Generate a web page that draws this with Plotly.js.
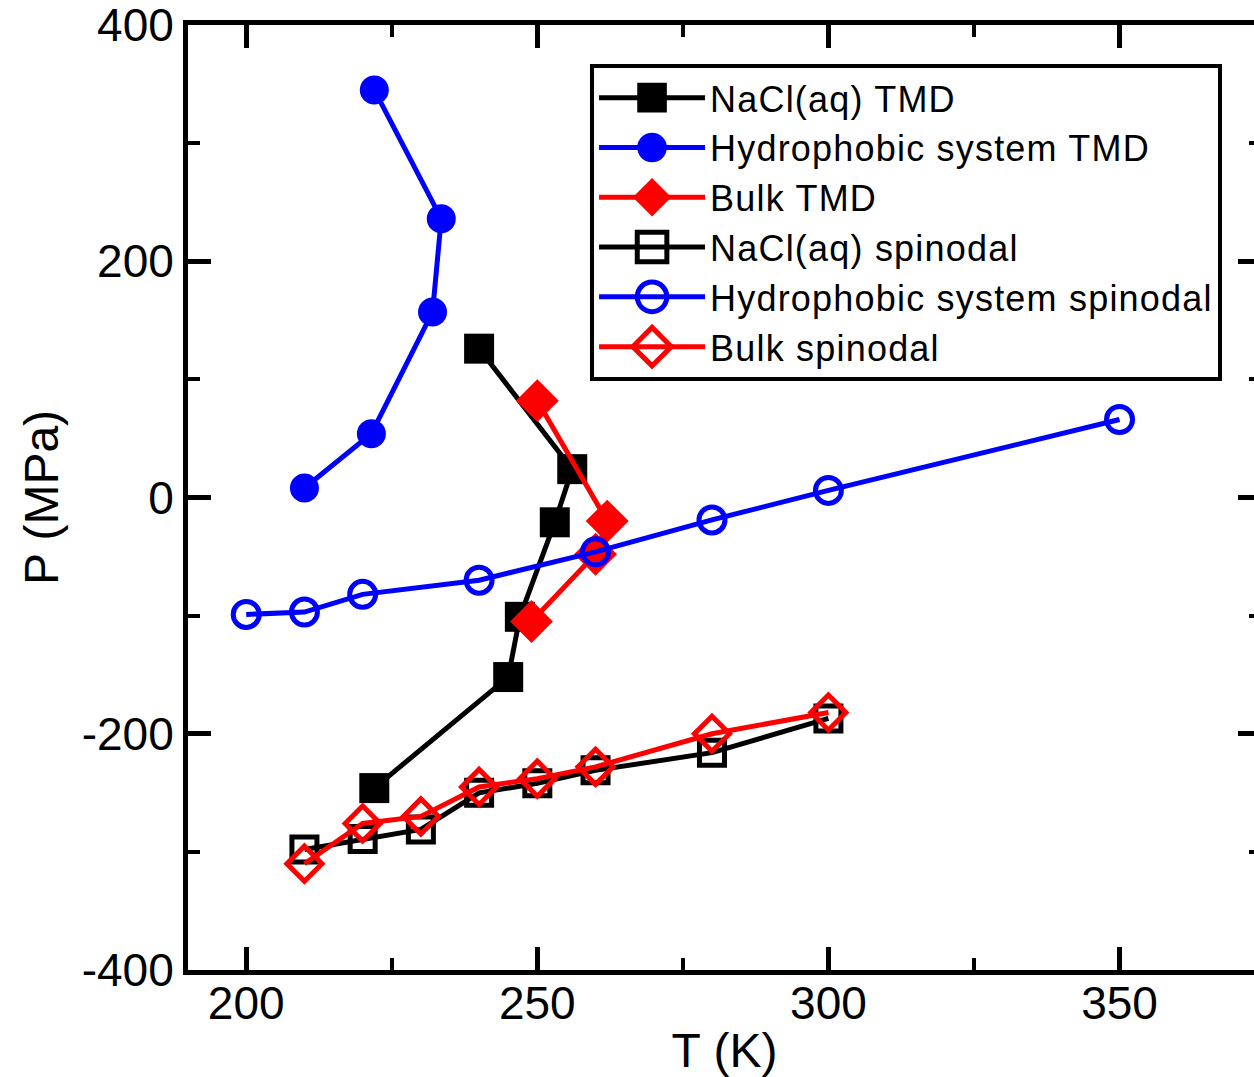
<!DOCTYPE html>
<html>
<head>
<meta charset="utf-8">
<script src="https://cdn.plot.ly/plotly-3.0.1.min.js"></script>
<style>
html,body{margin:0;padding:0;overflow:hidden;background:#fff}
#chart .legend .legendpoints path.scatterpts{ vector-effect: non-scaling-stroke; }
text.legendtext{ letter-spacing: 1.2px; }
</style>
</head>
<body>
<div id="chart" style="width:1270px;height:1077px"></div>
<script>
// NaCl(aq) TMD
const naclTmdT = [240, 256, 253, 247, 245, 222];
const naclTmdP = [126, 24, -21, -101, -152, -246];
// Hydrophobic system TMD
const hydroTmdT = [222, 233.5, 232, 221.5, 210];
const hydroTmdP = [345, 236, 157, 54, 8];
// Bulk TMD
const bulkTmdT = [250, 262, 260, 249];
const bulkTmdP = [82, -20, -48, -105];
// spinodals
const spinT = [210, 220, 230, 240, 250, 260, 280, 300];
const naclSpinP = [-298, -289, -281, -250, -242, -231, -216, -187];
const bulkSpinP = [-310, -276, -270, -245, -238, -228, -200, -182];
const hydroSpinT = [200, 210, 220, 240, 260, 280, 300, 350];
const hydroSpinP = [-99, -97, -82, -70, -46, -19, 6, 66];
// tick labels
const yTickVals = [-400, -200, 0, 200, 400];
const yTickText = ['-400', '-200', '0', '200', '400'];
const yMinorVals = [-300, -100, 100, 300];

const BLACK = '#000000', BLUE = '#0000ff', RED = '#ff0000';
const LW = 5;

const traces = [
  {x: naclTmdT, y: naclTmdP, name: 'NaCl(aq) TMD', mode: 'lines+markers',
   line: {color: BLACK, width: LW}, marker: {symbol: 'square', size: 30, color: BLACK}},
  {x: hydroTmdT, y: hydroTmdP, name: 'Hydrophobic system TMD', mode: 'lines+markers',
   line: {color: BLUE, width: LW}, marker: {symbol: 'circle', size: 29, color: BLUE}},
  {x: bulkTmdT, y: bulkTmdP, name: 'Bulk TMD', mode: 'lines+markers',
   line: {color: RED, width: LW}, marker: {symbol: 'diamond', size: 33, color: RED}},
  {x: spinT, y: naclSpinP, name: 'NaCl(aq) spinodal', mode: 'lines+markers',
   line: {color: BLACK, width: LW}, marker: {symbol: 'square-open', size: 25, color: BLACK, line: {width: 5, color: BLACK}}},
  {x: hydroSpinT, y: hydroSpinP, name: 'Hydrophobic system spinodal', mode: 'lines+markers',
   line: {color: BLUE, width: LW}, marker: {symbol: 'circle-open', size: 26, color: BLUE, line: {width: 5, color: BLUE}}},
  {x: spinT, y: bulkSpinP, name: 'Bulk spinodal', mode: 'lines+markers',
   line: {color: RED, width: LW}, marker: {symbol: 'diamond-open', size: 27, color: RED, line: {width: 5, color: RED}}}
];

const FONT = 'Liberation Sans, Arial, Helvetica, sans-serif';

const axisCommon = {
  showline: true, linewidth: 5, linecolor: BLACK, mirror: 'ticks',
  ticks: 'inside', ticklen: 23, tickwidth: 5, tickcolor: BLACK,
  showgrid: false, zeroline: false, ticklabeloverflow: 'allow',
  tickfont: {size: 46, family: FONT, color: BLACK}
};

const layout = {
  width: 1270, height: 1077,
  margin: {l: 188, r: 9, t: 25, b: 107},
  paper_bgcolor: '#ffffff', plot_bgcolor: '#ffffff',
  font: {family: FONT, size: 46, color: BLACK},
  showlegend: true,
  xaxis: Object.assign({}, axisCommon, {
    range: [190, 374.3], tickmode: 'linear', tick0: 0, dtick: 50,
    minor: {tickmode: 'linear', tick0: 0, dtick: 25, ticks: 'inside', ticklen: 12, tickwidth: 4, tickcolor: BLACK, showgrid: false},
    ticklabelstandoff: -11,
    title: {text: 'T (K)', font: {size: 48, family: FONT, color: BLACK}, standoff: 22}
  }),
  yaxis: Object.assign({}, axisCommon, {
    range: [-400, 400], tickmode: 'array', tickvals: yTickVals, ticktext: yTickText,
    minor: {tickmode: 'array', tickvals: yMinorVals, ticks: 'inside', ticklen: 12, tickwidth: 4, tickcolor: BLACK, showgrid: false},
    ticklabelstandoff: 0,
    title: {text: 'P (MPa)', font: {size: 48, family: FONT, color: BLACK}, standoff: 9}
  }),
  legend: {
    x: 0.3747, y: 0.959, xanchor: 'left', yanchor: 'top',
    bgcolor: '#ffffff', bordercolor: BLACK, borderwidth: 4,
    font: {size: 36, family: FONT, color: BLACK},
    itemwidth: 106, tracegroupgap: 0, itemsizing: 'trace'
  }
};

function enlargeLegendSymbols() {
  document.querySelectorAll('#chart .legend .legendpoints path.scatterpts').forEach(function (p) {
    const t = p.getAttribute('transform') || '';
    if (t.indexOf('scale') < 0) p.setAttribute('transform', t + ' scale(1.85)');
  });
}

Plotly.newPlot('chart', traces, layout, {displayModeBar: false, staticPlot: true})
  .then(enlargeLegendSymbols);
</script>
</body>
</html>
